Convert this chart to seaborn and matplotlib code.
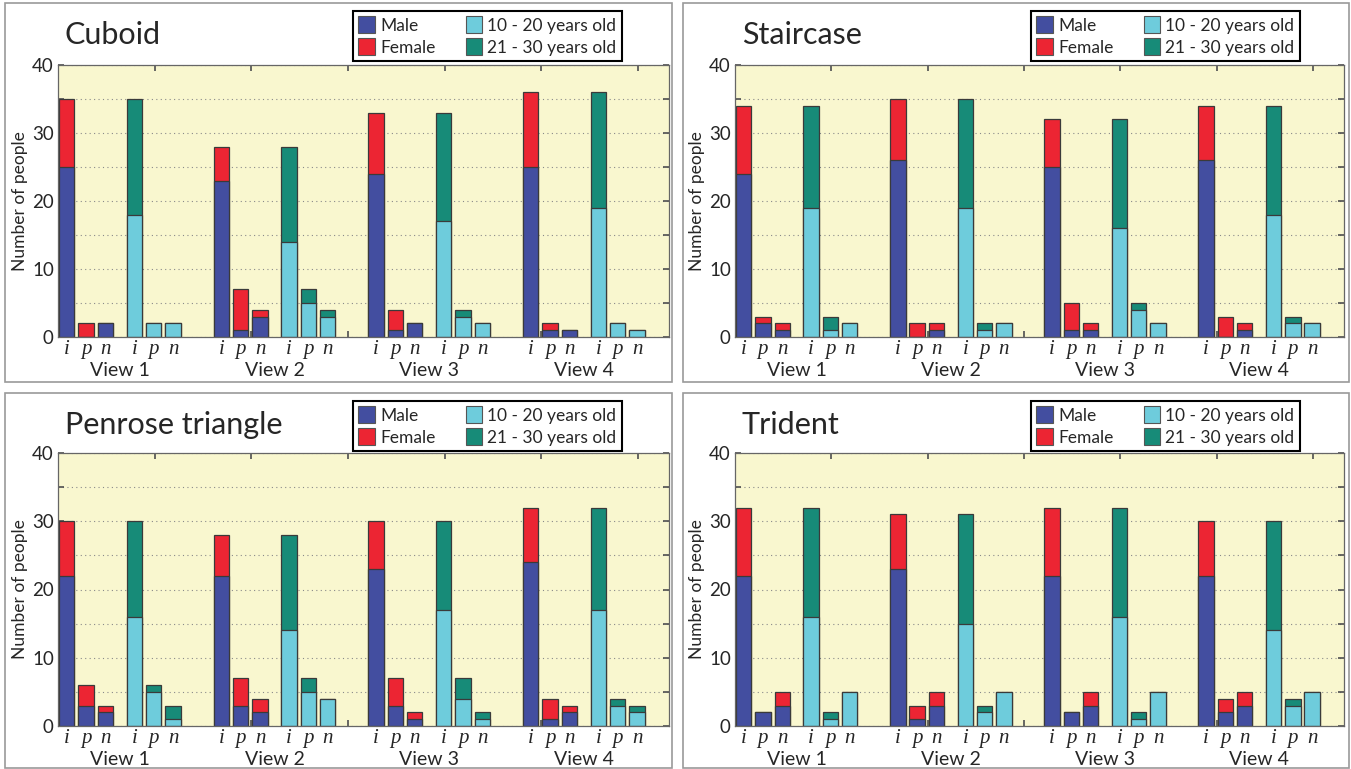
import pandas as pd
import matplotlib
matplotlib.use("Agg")
import matplotlib.pyplot as plt
from matplotlib.patches import Rectangle, Patch
import seaborn as sns

# ================= DATA =================
shapes = ["Cuboid", "Staircase", "Penrose triangle", "Trident"]
views = ["View 1", "View 2", "View 3", "View 4"]
answers = ["i", "p", "n"]

# rows = views, columns = answers (i, p, n)
cuboid_male = [[25, 0, 2], [23, 1, 3], [24, 1, 2], [25, 1, 1]]
cuboid_female = [[10, 2, 0], [5, 6, 1], [9, 3, 0], [11, 1, 0]]
cuboid_young = [[18, 2, 2], [14, 5, 3], [17, 3, 2], [19, 2, 1]]
cuboid_old = [[17, 0, 0], [14, 2, 1], [16, 1, 0], [17, 0, 0]]

staircase_male = [[24, 2, 1], [26, 0, 1], [25, 1, 1], [26, 0, 1]]
staircase_female = [[10, 1, 1], [9, 2, 1], [7, 4, 1], [8, 3, 1]]
staircase_young = [[19, 1, 2], [19, 1, 2], [16, 4, 2], [18, 2, 2]]
staircase_old = [[15, 2, 0], [16, 1, 0], [16, 1, 0], [16, 1, 0]]

penrose_male = [[22, 3, 2], [22, 3, 2], [23, 3, 1], [24, 1, 2]]
penrose_female = [[8, 3, 1], [6, 4, 2], [7, 4, 1], [8, 3, 1]]
penrose_young = [[16, 5, 1], [14, 5, 4], [17, 4, 1], [17, 3, 2]]
penrose_old = [[14, 1, 2], [14, 2, 0], [13, 3, 1], [15, 1, 1]]

trident_male = [[22, 2, 3], [23, 1, 3], [22, 2, 3], [22, 2, 3]]
trident_female = [[10, 0, 2], [8, 2, 2], [10, 0, 2], [8, 2, 2]]
trident_young = [[16, 1, 5], [15, 2, 5], [16, 1, 5], [14, 3, 5]]
trident_old = [[16, 1, 0], [16, 1, 0], [16, 1, 0], [16, 1, 0]]

legend_labels = ["Male", "Female", "10 - 20 years old", "21 - 30 years old"]

panel_data = {
    "Cuboid": (cuboid_male, cuboid_female, cuboid_young, cuboid_old),
    "Staircase": (staircase_male, staircase_female, staircase_young, staircase_old),
    "Penrose triangle": (penrose_male, penrose_female, penrose_young, penrose_old),
    "Trident": (trident_male, trident_female, trident_young, trident_old),
}

# ================= STYLE =================
sns.set_theme(style="ticks")
plt.rcParams["font.family"] = ["Lato", "DejaVu Sans"]

MALE = "#434EA0"
FEMALE = "#EC2533"
YOUNG = "#6ECCDC"
OLD = "#178B78"
EDGE = "#3a3a3a"
AX_BG = "#F9F7CF"

W, H = 1351, 769
fig = plt.figure(figsize=(W / 100, H / 100), dpi=100)


def fx(px):
    return px / W


def fy(py):
    return 1 - py / H


# panel layout in pixels: (box left, box right, box top, box bottom, axes left, axes right, axes top, axes bottom)
layout = {
    "Cuboid": (5, 672, 3, 382, 58, 669, 65, 337),
    "Staircase": (683, 1349, 3, 382, 735, 1344, 65, 337),
    "Penrose triangle": (5, 672, 393, 768, 58, 669, 453, 726),
    "Trident": (683, 1349, 393, 768, 735, 1344, 453, 726),
}


def long_table(base, top, offset):
    rows = []
    for v in range(len(views)):
        for a in range(len(answers)):
            rows.append({
                "pos": v * 8 + offset + a,
                "base": base[v][a],
                "total": base[v][a] + top[v][a],
            })
    return pd.DataFrame(rows)


for shape in shapes:
    bl, br, bt, bb, al, ar, at, ab = layout[shape]
    male, female, young, old = panel_data[shape]

    # outer grey frame of each panel
    fig.add_artist(Rectangle((fx(bl), fy(bb)), fx(br - bl), (bb - bt) / H,
                             transform=fig.transFigure, fill=False,
                             edgecolor="#9a9a9a", linewidth=1.2))

    ax = fig.add_axes([fx(al), fy(ab), fx(ar - al), (ab - at) / H])
    ax.set_facecolor(AX_BG)

    gender = long_table(male, female, 0.45)
    age = long_table(young, old, 3.95)

    bar_kw = dict(native_scale=True, saturation=1, errorbar=None, width=0.8,
                  edgecolor=EDGE, linewidth=0.9, ax=ax)
    sns.barplot(data=gender, x="pos", y="total", color=FEMALE, **bar_kw)
    sns.barplot(data=gender, x="pos", y="base", color=MALE, **bar_kw)
    sns.barplot(data=age, x="pos", y="total", color=OLD, **bar_kw)
    sns.barplot(data=age, x="pos", y="base", color=YOUNG, **bar_kw)

    ax.set_xlim(0, 31.6)
    ax.set_ylim(0, 40)
    ax.set_xticks(range(5, 31, 5))
    ax.set_xticklabels([])
    ax.set_yticks(range(0, 41, 5))
    ax.set_yticklabels([str(t) if t % 10 == 0 else "" for t in range(0, 41, 5)],
                       fontsize=13.5)
    ax.set_xlabel("")
    ax.set_ylabel("Number of people", fontsize=12.5, labelpad=3)
    ax.tick_params(direction="in", top=True, right=True, length=4,
                   color="#555555", pad=3)
    ax.yaxis.grid(True, linestyle=(0, (1, 3)), color="#8a8a8a", linewidth=0.8)
    ax.set_axisbelow(True)
    for sp in ax.spines.values():
        sp.set_visible(True)
        sp.set_color("#666666")
        sp.set_linewidth(0.9)

    # answer letters and view names under the bars
    xt = ax.get_xaxis_transform()
    for df in (gender, age):
        for i, p in enumerate(df["pos"]):
            ax.text(p, -0.012, answers[i % 3], transform=xt, ha="center", va="top",
                    fontsize=15, style="italic", family="Liberation Serif")
    for v, name in enumerate(views):
        ax.text(v * 8 + 3.2, -0.123, name, transform=xt, ha="center",
                va="center", fontsize=14)

    fig.text(fx(al + 7), fy(bt + 32), shape, ha="left", va="center", fontsize=22)

    handles = [Patch(facecolor=c, edgecolor="#555555", linewidth=0.8)
               for c in (MALE, FEMALE, YOUNG, OLD)]
    leg = ax.legend(handles, legend_labels, ncol=2, loc="upper left",
                    bbox_to_anchor=(fx(bl + 348), fy(bt + 8)),
                    bbox_transform=fig.transFigure, frameon=True, fancybox=False,
                    edgecolor="black", framealpha=1, fontsize=12.5,
                    handlelength=0.95, handleheight=1.15, handletextpad=0.3,
                    columnspacing=1.75, borderpad=0.3, labelspacing=0.25,
                    borderaxespad=0)
    leg.get_frame().set_linewidth(1.5)

fig.savefig("out.png", dpi=100, facecolor="white")
